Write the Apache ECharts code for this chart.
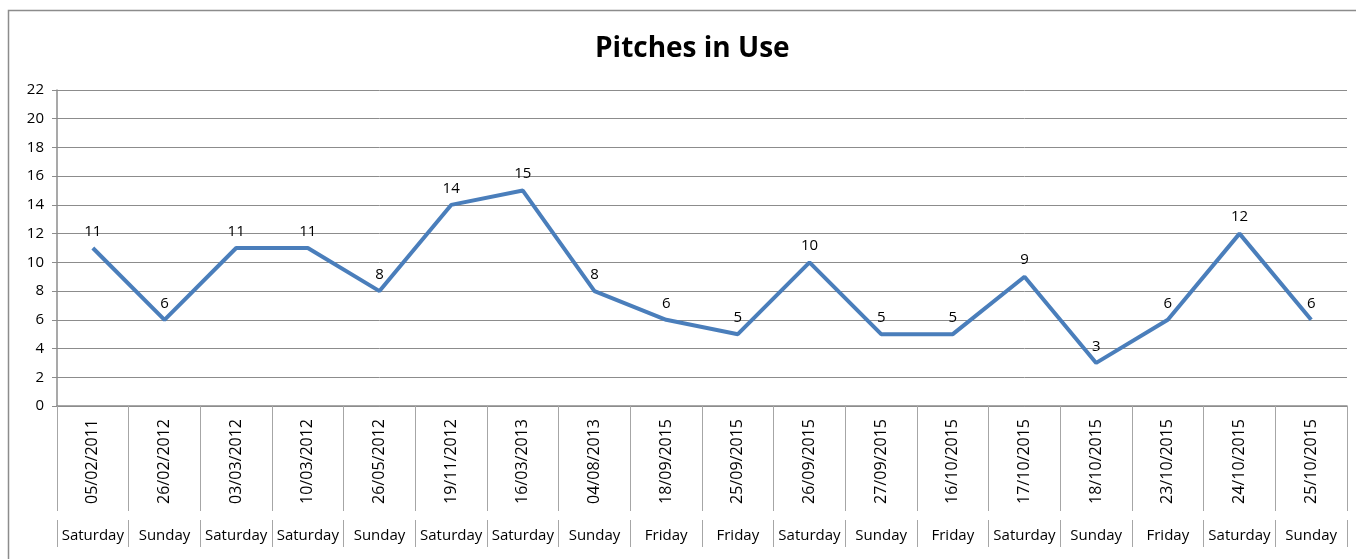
<!DOCTYPE html>
<html>
<head>
<meta charset="utf-8">
<script src="https://cdn.jsdelivr.net/npm/echarts@6/dist/echarts.min.js"></script>
<style>
  html, body { margin: 0; padding: 0; background: #fff; }
  #chart { width: 1356px; height: 559px; }
</style>
</head>
<body>
<div id="chart"></div>
<script>
// 数据
const dates = ['05/02/2011', '26/02/2012', '03/03/2012', '10/03/2012', '26/05/2012', '19/11/2012',
  '16/03/2013', '04/08/2013', '18/09/2015', '25/09/2015', '26/09/2015', '27/09/2015',
  '16/10/2015', '17/10/2015', '18/10/2015', '23/10/2015', '24/10/2015', '25/10/2015']
const days = ['Saturday', 'Sunday', 'Saturday', 'Saturday', 'Sunday', 'Saturday',
  'Saturday', 'Sunday', 'Friday', 'Friday', 'Saturday', 'Sunday',
  'Friday', 'Saturday', 'Sunday', 'Friday', 'Saturday', 'Sunday']
const pitches = [11, 6, 11, 11, 8, 14, 15, 8, 6, 5, 10, 5, 5, 9, 3, 6, 12, 6]

const font = 'Open Sans'
const gray = '#8c8c8c'

let myChart = echarts.init(document.getElementById('chart'))

let option = {
  animation: false,
  backgroundColor: '#fff',
  title: {
    text: 'Pitches in Use',
    left: 590,
    top: 30,
    textStyle: { fontFamily: font, fontSize: 28, fontWeight: 'bold', color: '#000' }
  },
  graphic: [{
    type: 'rect',
    shape: { x: 8.5, y: 10.5, width: 1400, height: 600 },
    style: { fill: 'none', stroke: gray, lineWidth: 1.5 },
    silent: true
  }],
  grid: { left: 57, right: 9, top: 90, bottom: 153 },
  xAxis: [
    {
      type: 'category',
      position: 'bottom',
      data: dates,
      axisLine: { lineStyle: { color: gray, width: 1.5 } },
      axisTick: { show: true, interval: 0, length: 105, lineStyle: { color: '#a6a6a6' } },
      axisLabel: {
        interval: 0, rotate: 90, margin: 13,
        fontFamily: font, fontSize: 16, color: '#000'
      }
    },
    {
      type: 'category',
      position: 'bottom',
      offset: 114,
      data: days,
      axisLine: { show: false },
      axisTick: { show: true, interval: 0, length: 27, lineStyle: { color: '#a6a6a6' } },
      axisLabel: {
        interval: 0, margin: 8,
        fontFamily: font, fontSize: 15, color: '#000'
      }
    }
  ],
  yAxis: {
    type: 'value',
    min: 0,
    max: 22,
    interval: 2,
    axisLine: { show: true, lineStyle: { color: gray, width: 1.5 } },
    axisTick: { show: true, length: 5, lineStyle: { color: gray } },
    splitLine: { lineStyle: { color: '#8c8c8c', width: 1 } },
    axisLabel: { margin: 13, fontFamily: font, fontSize: 15, color: '#000' }
  },
  series: [{
    type: 'line',
    xAxisIndex: 0,
    data: pitches,
    symbol: 'circle',
    symbolSize: 2,
    showSymbol: true,
    itemStyle: { color: 'rgba(0,0,0,0)', borderWidth: 0 },
    lineStyle: { color: '#4a7ebb', width: 4 },
    label: {
      show: true,
      position: 'top',
      distance: 8,
      fontFamily: font,
      fontSize: 15,
      color: '#000'
    }
  }]
}

myChart.setOption(option)
</script>
</body>
</html>
